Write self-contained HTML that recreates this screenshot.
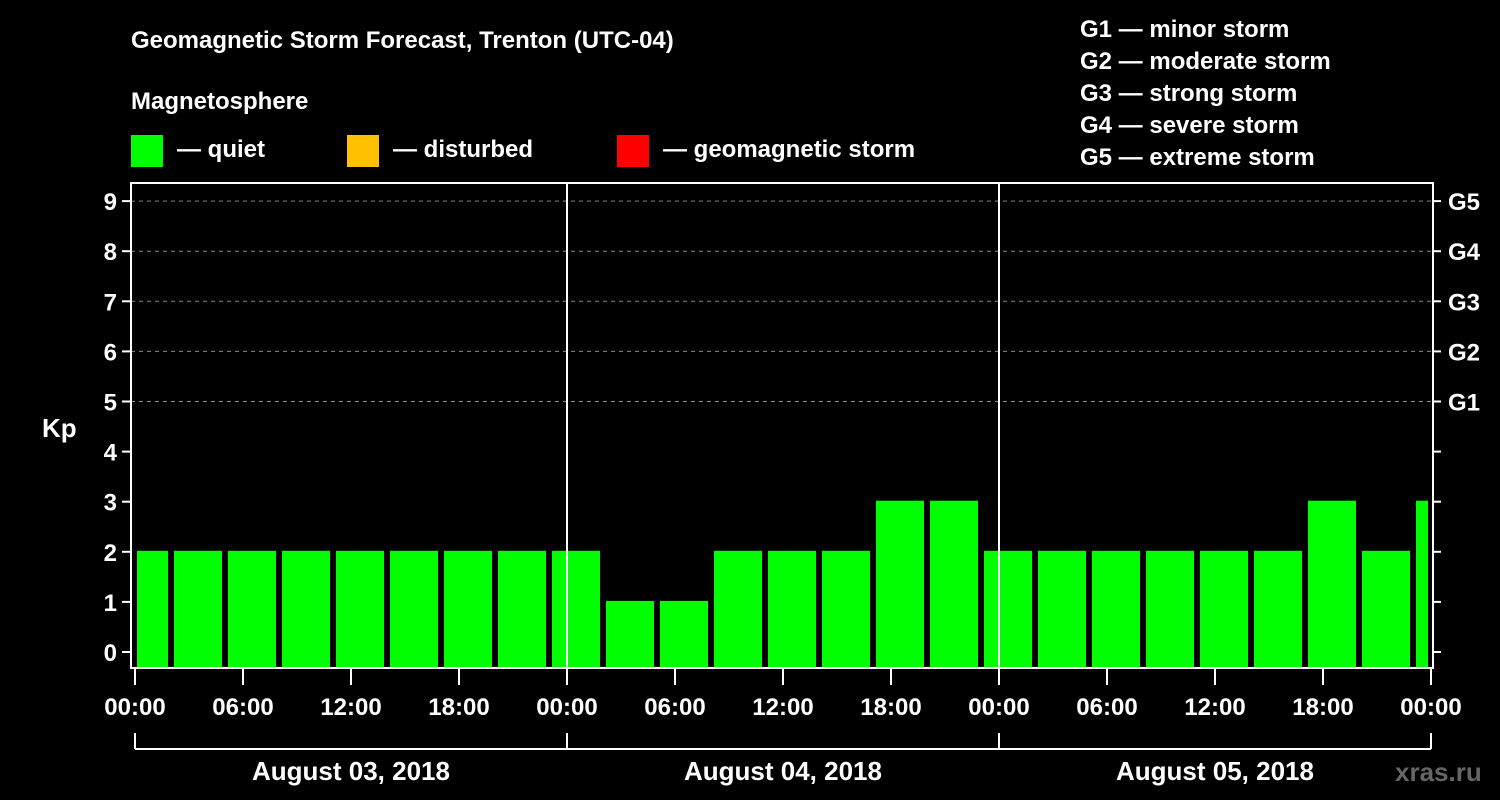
<!DOCTYPE html>
<html><head><meta charset="utf-8"><style>
body{margin:0;background:#000;width:1500px;height:800px;overflow:hidden}
svg{display:block;font-family:"Liberation Sans",Arial,sans-serif;font-weight:bold}
</style></head><body>
<svg id="c" width="1500" height="800" xmlns="http://www.w3.org/2000/svg">
<text x="131" y="48" fill="#fff" font-size="24">Geomagnetic Storm Forecast, Trenton (UTC-04)</text>
<text x="131" y="109" fill="#fff" font-size="24">Magnetosphere</text>
<g><rect x="131" y="135" width="32" height="32" fill="#00ff00"/><text x="177" y="157" fill="#fff" font-size="24">— quiet</text></g>
<g><rect x="347" y="135" width="32" height="32" fill="#ffc000"/><text x="393" y="157" fill="#fff" font-size="24">— disturbed</text></g>
<g><rect x="617" y="135" width="32" height="32" fill="#ff0000"/><text x="663" y="157" fill="#fff" font-size="24">— geomagnetic storm</text></g>
<g fill="#fff" font-size="24">
<text x="1080" y="37">G1 — minor storm</text><text x="1080" y="69">G2 — moderate storm</text><text x="1080" y="101">G3 — strong storm</text><text x="1080" y="133">G4 — severe storm</text><text x="1080" y="165">G5 — extreme storm</text></g>
<text x="42" y="437" fill="#fff" font-size="26">Kp</text>
<text x="1395" y="781" fill="#666" font-size="26">xras.ru</text>
<g id="g"></g>
</svg>
<script>
const kpValues=[2,2,2,2,2,2,2,2,2,1,1,2,2,2,3,3,2,2,2,2,2,2,3,2,3];
const yTicks=[0,1,2,3,4,5,6,7,8,9];
const gLabels=["G1","G2","G3","G4","G5"];
const xTickLabels=["00:00","06:00","12:00","18:00","00:00","06:00","12:00","18:00","00:00","06:00","12:00","18:00","00:00"];
const dayLabels=["August 03, 2018","August 04, 2018","August 05, 2018"];
const startHour=-1;
const NS="http://www.w3.org/2000/svg";
const g=document.getElementById('g');
const X0=135,PX=(1431-135)/72,L=131,R=1433,T=183,B=668;
const xs=h=>X0+h*PX, ys=v=>652-v*50.1;
function mk(t,a,p){const e=document.createElementNS(NS,t);for(const k in a)e.setAttribute(k,a[k]);(p||g).appendChild(e);return e;}
yTicks.forEach(v=>{
  if(v>=5){const l=mk('line',{x1:L,x2:R,y1:ys(v),y2:ys(v),stroke:'#888','stroke-dasharray':'4,4'});
  
  }
  mk('line',{x1:L-9,x2:L,y1:ys(v),y2:ys(v),stroke:'#fff','stroke-width':2});
  mk('line',{x1:R,x2:R+8,y1:ys(v),y2:ys(v),stroke:'#fff','stroke-width':2});
  const t=mk('text',{x:L-14,y:ys(v)+9,fill:'#fff','font-size':24,'text-anchor':'end'});t.textContent=v;
  
  
});
gLabels.forEach((s,i)=>{const t=mk('text',{x:1448,y:ys(5+i)+9,fill:'#fff','font-size':24});t.textContent=s;
  
  });
kpValues.forEach((v,i)=>{
  const h0=startHour+i*3;let x1=xs(h0)+3,x2=xs(h0+3)-3;
  x1=Math.max(x1,L+6);x2=Math.min(x2,R-5);
  const col=v>=5?'#ff0000':(v>=4?'#ffc000':'#00ff00');
  const r=mk('rect',{x:x1,y:ys(v)-1,width:x2-x1,height:B-ys(v)+1,fill:col});
  
  
});
mk('rect',{x:L,y:T,width:R-L,height:B-T,fill:'none',stroke:'#fff','stroke-width':2});
[24,48].forEach(h=>mk('line',{x1:xs(h),x2:xs(h),y1:T,y2:B,stroke:'#fff','stroke-width':2}));
xTickLabels.forEach((s,i)=>{
  const x=xs(i*6);
  mk('line',{x1:x,x2:x,y1:B,y2:B+17,stroke:'#fff','stroke-width':2});
  const t=mk('text',{x:x,y:715,fill:'#fff','font-size':24,'text-anchor':'middle'});t.textContent=s;
  
  
});
mk('line',{x1:xs(0),x2:xs(72),y1:749,y2:749,stroke:'#fff','stroke-width':2});
[0,24,48,72].forEach(h=>mk('line',{x1:xs(h),x2:xs(h),y1:733,y2:749,stroke:'#fff','stroke-width':2}));
dayLabels.forEach((s,i)=>{const t=mk('text',{x:xs(i*24+12),y:780,fill:'#fff','font-size':26,'text-anchor':'middle'});t.textContent=s;
  
  });
</script>
</body></html>
